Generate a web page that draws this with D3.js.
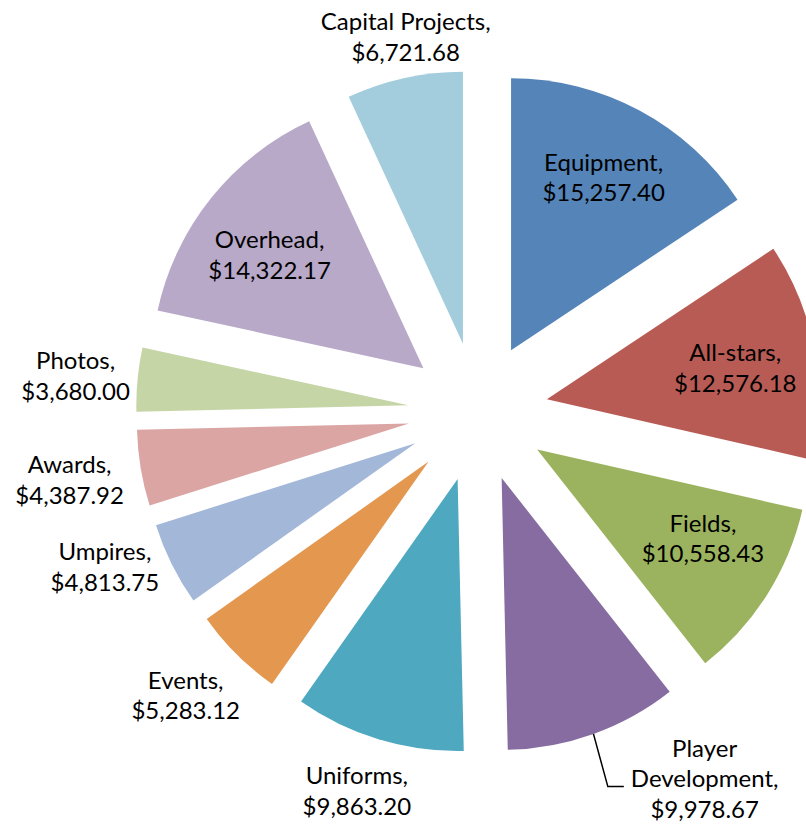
<!DOCTYPE html>
<html lang="en">
<head>
  <meta charset="UTF-8" />
  <title>Budget pie</title>
  <script src="https://d3js.org/d3.v7.min.js"></script>
  <style>
    body { margin: 0; background: #fff; }
    #chart { display: block; }
    .label { font-family: Lato, "Open Sans", sans-serif; font-size: 24px; fill: #000; }
    .leader { stroke: #000; stroke-width: 1.5px; fill: none; }
  </style>
</head>
<body>
  <svg id="chart"></svg>
  <script>
    // data, clockwise from 12 o'clock
    const categories = ["Equipment", "All-stars", "Fields", "Player Development", "Uniforms",
      "Events", "Umpires", "Awards", "Photos", "Overhead", "Capital Projects"];
    const amounts = [15257.40, 12576.18, 10558.43, 9978.67, 9863.20,
      5283.12, 4813.75, 4387.92, 3680.00, 14322.17, 6721.68];

    // styling / layout, same order as categories
    const palette = ["#5484B8", "#B95B55", "#9BB35E", "#866CA0", "#4EA8BF",
      "#E3974F", "#A3B7D9", "#DAA5A3", "#C5D5A6", "#B8A9C9", "#A3CDDC"];
    // label distance from pie centre and angle tweak (degrees)
    const labelDist = [266, 261, 258, 431, 398, 407, 404, 414, 404, 261, 382];
    const labelTweak = [0, 0.7, -3, -12, 0.8, 1, 3.9, 0, -0.3, -1.7, 1.5];

    const width = 806, height = 825;
    const cx = 478, cy = 412;
    const radius = 272;
    const explode = 70;
    const lineGap = 30.5;

    const svg = d3.select("#chart").attr("width", width).attr("height", height);

    const pie = d3.pie().sort(null).value(d => d.value);
    const slices = pie(categories.map((c, i) => ({ name: c, value: amounts[i], i })));
    const arc = d3.arc().innerRadius(0).outerRadius(radius);
    const money = d3.format("$,.2f");

    const root = svg.append("g").attr("transform", `translate(${cx},${cy})`);

    const mid = d => (d.startAngle + d.endAngle) / 2;
    const polar = (a, r) => [Math.sin(a) * r, -Math.cos(a) * r];

    root.selectAll("path.slice")
      .data(slices)
      .join("path")
      .attr("class", "slice")
      .attr("d", arc)
      .attr("fill", d => palette[d.data.i])
      .attr("transform", d => {
        const [x, y] = polar(mid(d), explode);
        return `translate(${x},${y})`;
      });

    // labels
    slices.forEach(d => {
      const i = d.data.i;
      const a = mid(d) + labelTweak[i] * Math.PI / 180;
      const [lx, ly] = polar(a, labelDist[i]);
      const name = d.data.name;
      const lines = name === "Player Development"
        ? ["Player", "Development,", money(d.value)]
        : [name + ",", money(d.value)];

      const t = root.append("text")
        .attr("class", "label")
        .attr("text-anchor", "middle");
      lines.forEach((ln, k) => {
        t.append("tspan")
          .attr("x", lx)
          .attr("y", ly + (k - (lines.length - 1) / 2) * lineGap)
          .attr("dy", "0.36em")
          .text(ln);
      });

      // leader line for the label placed away from its slice
      if (lines.length > 2) {
        const bb = t.node().getBBox();
        const [ex, ey] = polar(mid(d), explode);
        const [sx, sy] = polar(mid(d), radius);
        const endX = bb.x - 7, endY = ly + 8;
        root.append("path")
          .attr("class", "leader")
          .attr("d", d3.line()([[ex + sx, ey + sy], [endX - 16, endY], [endX, endY]]));
      }
    });
  </script>
</body>
</html>
